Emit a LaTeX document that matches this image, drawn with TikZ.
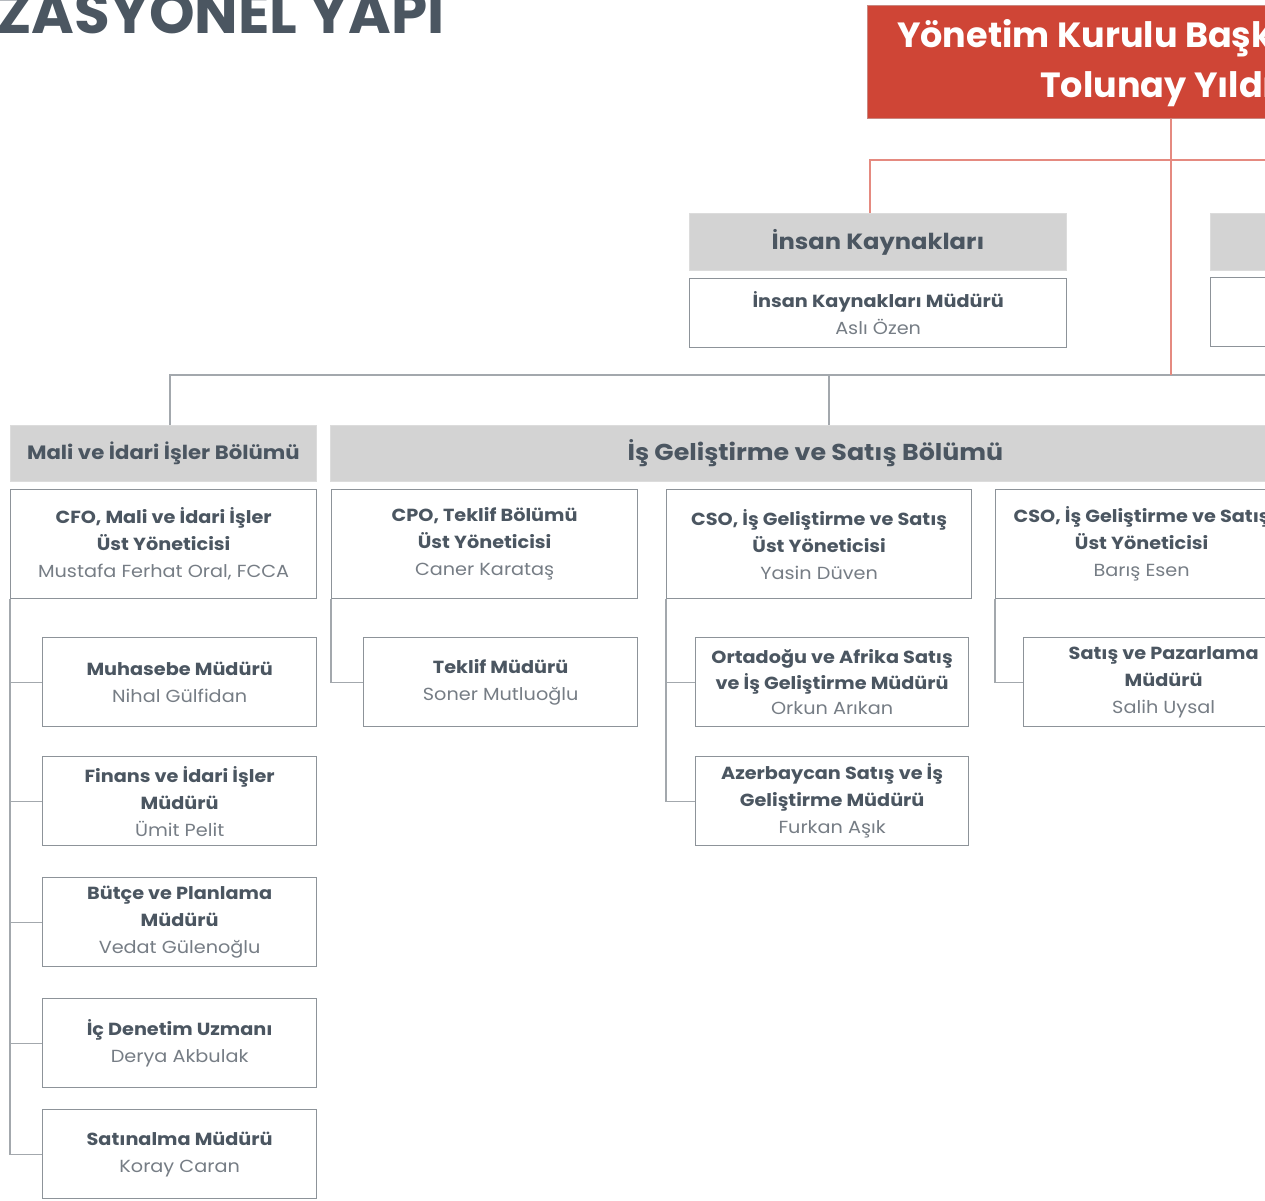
\documentclass[tikz,border=0pt]{standalone}
\usepackage{fontspec}
\setmainfont{Poppins}[FakeStretch=1.1]
\newfontfamily\titlefont{Poppins}
\definecolor{txtdark}{HTML}{4B5661}
\definecolor{txtname}{HTML}{767D85}
\definecolor{hdrgray}{HTML}{D3D3D3}
\definecolor{boxline}{HTML}{8D9399}
\definecolor{conngray}{HTML}{A3A8AD}
\definecolor{chairred}{HTML}{CF4536}
\definecolor{redline}{HTML}{E58A80}
\tikzset{
  hdr/.style={fill=hdrgray, draw=hdrgray!80!white, line width=0.8pt, anchor=north west, inner sep=0pt, align=center, text=txtdark},
  pbox/.style={draw=boxline, fill=white, line width=1.3pt, anchor=north west, inner sep=0pt, align=center, text=txtdark, font=\fontsize{17.5}{27}\selectfont},
  conn/.style={draw=conngray, line width=1.1pt},
  redconn/.style={draw=redline, line width=1.6pt},
  chairtext/.style={anchor=base west, inner sep=0pt, text=white, font=\titlefont\fontsize{35}{40}\selectfont\bfseries},
}
\newcommand{\nm}[1]{{\color{txtname}#1}}
\begin{document}
\begin{tikzpicture}[x=1pt,y=-1pt]
\useasboundingbox (0,0) rectangle (1265,1200);
\clip (0,0) rectangle (1265,1200);
% title
\node[anchor=base east, inner sep=0pt, text=txtdark, font=\titlefont\fontsize{58}{62}\selectfont\bfseries] (title) at (445,33) {ORGANİZASYONEL YAPI};
% chair
\node[fill=chairred, draw=chairred!80!black!60, line width=0.6pt, anchor=north west, minimum width=620, minimum height=113, inner sep=0pt] (chair) at (867,5) {};
\node[chairtext] (chairl1) at (897,47) {Yönetim Kurulu Başkanı};
\node[chairtext] (chairl2) at (1040,97) {Tolunay Yıldırım};
% HR
\node[hdr, minimum width=377, minimum height=57, font=\fontsize{22}{26}\selectfont\bfseries] (ikh) at (689,213) {İnsan Kaynakları};
\node[pbox, minimum width=377, minimum height=69] (ikm) at (689,278) {\bfseries İnsan Kaynakları Müdürü\\\nm{Aslı Özen}};
% right partial
\node[hdr, minimum width=377, minimum height=57] (rh) at (1210,213) {};
\node[pbox, minimum width=377, minimum height=69] (rm) at (1210,277) {};
% departments
\node[hdr, minimum width=306, minimum height=56, font=\fontsize{19.3}{22}\selectfont\bfseries] (mali) at (10,425) {Mali ve İdari İşler Bölümü};
\node[hdr, minimum width=970, minimum height=56, font=\fontsize{23}{26}\selectfont\bfseries] (isg) at (330,425) {İş Geliştirme ve Satış Bölümü};
% top level boxes
\node[pbox, minimum width=306, minimum height=109] (cfo) at (10,489) {\bfseries CFO, Mali ve İdari İşler\\\bfseries Üst Yöneticisi\\\nm{Mustafa Ferhat Oral, FCCA}};
\node[pbox, minimum width=306, minimum height=109] (cpo) at (331,489) {\bfseries CPO, Teklif Bölümü\\\bfseries Üst Yöneticisi\\\nm{Caner Karataş}};
\node[pbox, minimum width=305, minimum height=109] (csoa) at (666,489) {\bfseries CSO, İş Geliştirme ve Satış\\\bfseries Üst Yöneticisi\\\nm{Yasin Düven}};
\node[pbox, minimum width=292, minimum height=109] (csob) at (995,489) {\bfseries CSO, İş Geliştirme ve Satış\\\bfseries Üst Yöneticisi\\\nm{Barış Esen}};
% left sub boxes
\node[pbox, minimum width=274, minimum height=89] (muh) at (42,637) {\bfseries Muhasebe Müdürü\\\nm{Nihal Gülfidan}};
\node[pbox, minimum width=274, minimum height=89] (fin) at (42,756) {\bfseries Finans ve İdari İşler\\\bfseries Müdürü\\\nm{Ümit Pelit}};
\node[pbox, minimum width=274, minimum height=89] (but) at (42,877) {\bfseries Bütçe ve Planlama\\\bfseries Müdürü\\\nm{Vedat Gülenoğlu}};
\node[pbox, minimum width=274, minimum height=89] (ic) at (42,998) {\bfseries İç Denetim Uzmanı\\\nm{Derya Akbulak}};
\node[pbox, minimum width=274, minimum height=89] (sat) at (42,1109) {\bfseries Satınalma Müdürü\\\nm{Koray Caran}};
% CPO sub
\node[pbox, minimum width=274, minimum height=89] (tek) at (363,637) {\bfseries Teklif Müdürü\\\nm{Soner Mutluoğlu}};
% CSO a subs
\node[pbox, minimum width=273, minimum height=89, font=\fontsize{17.5}{25.5}\selectfont] (ort) at (695,637) {\bfseries Ortadoğu ve Afrika Satış\\\bfseries ve İş Geliştirme Müdürü\\\nm{Orkun Arıkan}};
\node[pbox, minimum width=273, minimum height=89] (aze) at (695,756) {\bfseries Azerbaycan Satış ve İş\\\bfseries Geliştirme Müdürü\\\nm{Furkan Aşık}};
% CSO b sub
\node[pbox, minimum width=280, minimum height=89] (spm) at (1023,637) {\bfseries Satış ve Pazarlama\\\bfseries Müdürü\\\nm{Salih Uysal}};
% connectors
\coordinate (cj) at (1171,375);
\coordinate (rk) at (870,160);
\coordinate (rr) at (1290,160);
\coordinate (gl) at (170,375);
\coordinate (gm) at (829,375);
\coordinate (gr) at (1290,375);
\draw[redconn] (cj |- chair.south) -- (cj);
\draw[redconn] (rk |- ikh.north) -- (rk) -- (rr);
\draw[conn] (gl |- mali.north) -- (gl) -- (gr);
\draw[conn] (gm |- isg.north) -- (gm);
\draw[redconn] (cj |- chair.south) -- (cj);
\draw[conn] (cfo.south west) -- (cfo.south west |- sat.west) -- (sat.west);
\foreach \n in {muh,fin,but,ic} \draw[conn] (cfo.south west |- \n.west) -- (\n.west);
\draw[conn] (cpo.south west) -- (cpo.south west |- tek.west) -- (tek.west);
\draw[conn] (csoa.south west) -- (csoa.south west |- aze.west) -- (aze.west);
\draw[conn] (csoa.south west |- ort.west) -- (ort.west);
\draw[conn] (csob.south west) -- (csob.south west |- spm.west) -- (spm.west);
\end{tikzpicture}
\end{document}
